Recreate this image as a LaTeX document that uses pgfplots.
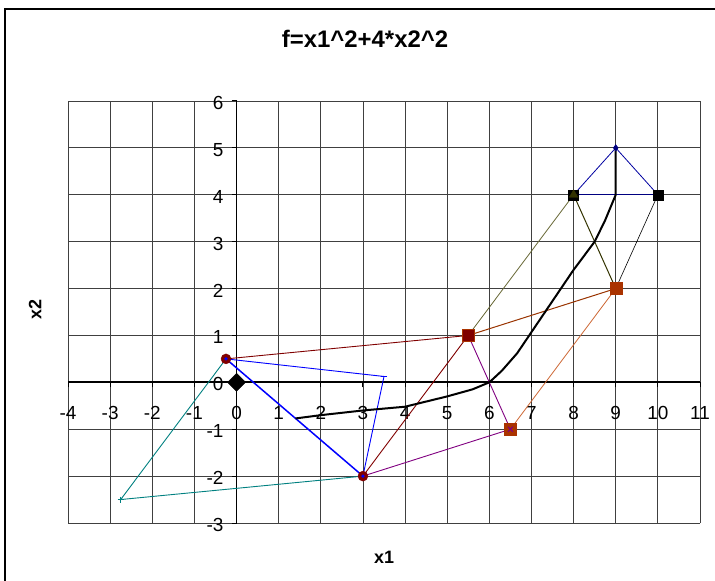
\documentclass[border=0pt]{standalone}
\usepackage{pgfplots}
\pgfplotsset{compat=1.18}
\usepackage{fontspec}
\setmainfont{Liberation Sans}

\definecolor{navyline}{RGB}{0,0,160}
\definecolor{navymark}{RGB}{0,0,128}
\definecolor{olivedark}{RGB}{51,51,0}
\definecolor{olivelight}{RGB}{102,102,51}
\definecolor{brownline}{RGB}{153,51,0}
\definecolor{orangeline}{RGB}{204,102,51}
\definecolor{orangesq}{RGB}{170,51,0}
\definecolor{purpleline}{RGB}{128,0,128}
\definecolor{darkredline}{RGB}{128,0,0}
\definecolor{tealline}{RGB}{0,128,128}
\definecolor{blueline}{RGB}{0,0,255}

\begin{document}
\begin{tikzpicture}
\useasboundingbox (0,0) rectangle (715bp,581bp);
% chart frame (left and top edges)
\draw[line width=1.5bp] (5bp,0bp) -- (5bp,572bp) -- (715bp,572bp);
\begin{axis}[
  at={(68bp,58bp)}, anchor=south west,
  scale only axis, width=632bp, height=422bp,
  xmin=-4, xmax=11, ymin=-3, ymax=6,
  xtick={-4,...,11}, ytick={-3,...,6},
  axis lines=middle,
  axis line style={-, line width=1.8bp, black},
  x axis line style={-, line width=1.8bp, black},
  y axis line style={-, line width=1.8bp, black},
  grid=major,
  major grid style={black!75, line width=0.8bp},
  tick style={black, line width=1bp},
  major tick length=5bp,
  tick align=outside,
  hide obscured x ticks=false, hide obscured y ticks=false,
  /pgf/number format/assume math mode=true,
  tick label style={font=\fontsize{19}{19}\selectfont, inner sep=0pt},
  xticklabel style={anchor=north, yshift=-19bp},
  yticklabel style={anchor=east, xshift=-8bp, yshift=-2bp},
  title={f=x1\^{}2+4*x2\^{}2},
  title style={font=\bfseries\fontsize{24}{24}\selectfont, at={(axis description cs:0.47,1.133)}, anchor=center},
  xlabel={x1},
  ylabel={x2},
  xlabel style={font=\bfseries\fontsize{18}{18}\selectfont, at={(axis description cs:0.5,-0.0806)}, anchor=center},
  ylabel style={font=\bfseries\fontsize{18}{18}\selectfont, at={(axis description cs:-0.0522,0.505)}, anchor=center, rotate=90},
  clip=false,
]
% simplex 1
\addplot[navyline, line width=0.8bp, mark=diamond*, mark size=3bp,
  mark options={fill=navymark, draw=navymark}]
  coordinates {(8,4) (9,5) (10,4)};
\addplot[navymark, line width=1.4bp] coordinates {(8,4) (10,4)};
% simplex 2
\addplot[black, line width=0.6bp] coordinates {(10,4) (9,2)};
% simplex 3
\addplot[olivedark, line width=1bp] coordinates {(8,4) (9,2)};
\addplot[olivelight, line width=0.8bp] coordinates {(8,4) (5.5,1)};
% simplex 4
\addplot[brownline, line width=1bp] coordinates {(5.5,1) (9,2)};
\addplot[orangeline, line width=0.8bp] coordinates {(9,2) (6.5,-1)};
% simplex 5
\addplot[purpleline, line width=0.9bp] coordinates {(5.5,1) (6.5,-1) (3,-2)};
% simplex 6
\addplot[darkredline, line width=0.9bp] coordinates {(-0.25,0.5) (5.5,1) (3,-2)};
% simplex 7
\addplot[tealline, line width=0.9bp, mark=+, mark size=3bp, mark options={solid}]
  coordinates {(-0.25,0.5) (-2.75,-2.5) (3,-2)};
% simplex 8
\addplot[blueline, line width=0.9bp, mark=-, mark size=3bp]
  coordinates {(-0.25,0.5) (3.5,0.125) (3,-2)};
\addplot[blueline, line width=1.5bp] coordinates {(3,-2) (-0.25,0.5)};
% path of the search
\addplot[black, line width=2bp] coordinates {
  (1.4,-0.77) (2,-0.70) (3,-0.6) (4,-0.52) (5,-0.3) (5.6,-0.15) (6,0)
  (6.3,0.25) (6.66,0.62) (7.3,1.47) (8,2.4) (8.5,3) (8.75,3.46) (9,4) (9,5)};
% vertex markers
\addplot[only marks, mark=square*, mark size=5bp, mark options={fill=black, draw=black}]
  coordinates {(8,4) (10,4)};
\addplot[only marks, mark=triangle*, mark size=5bp, mark options={fill=olivedark, draw=olivedark}]
  coordinates {(8,4)};
\addplot[only marks, mark=square*, mark size=6bp, mark options={fill=orangesq, draw=orangesq}]
  coordinates {(9,2) (6.5,-1)};
\addplot[only marks, mark=square*, mark size=6bp, mark options={fill=darkredline, draw=orangesq, line width=1bp}]
  coordinates {(5.5,1)};
\addplot[only marks, mark=x, mark size=3.5bp, mark options={draw=purpleline, line width=1bp}]
  coordinates {(6.5,-1)};
\addplot[only marks, mark=*, mark size=5bp, mark options={fill=darkredline, draw=darkredline}]
  coordinates {(-0.25,0.5) (3,-2)};
\addplot[only marks, mark=*, mark size=1.5bp, mark options={fill=blueline, draw=blueline}]
  coordinates {(-0.25,0.5) (3,-2)};
\addplot[only marks, mark=square*, mark size=6.4bp, mark options={fill=black, draw=black, rotate=45}]
  coordinates {(0,0)};
\end{axis}
\end{tikzpicture}
\end{document}
